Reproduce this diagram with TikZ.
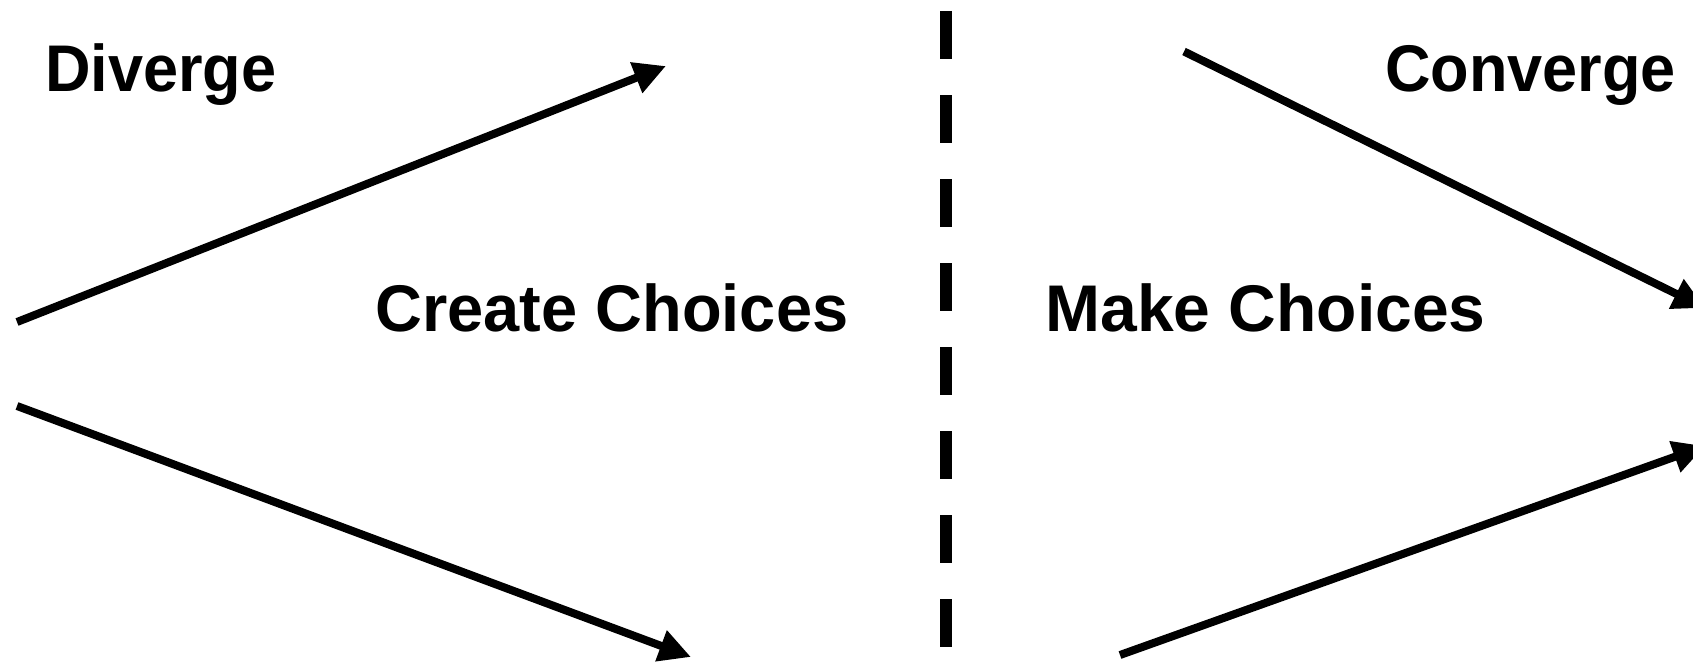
\documentclass[tikz,border=0pt]{standalone}
\usepackage{fontspec}
\setmainfont{Liberation Sans}
\usetikzlibrary{arrows.meta}
\tikzset{
  lbl/.style={anchor=base west, inner sep=0pt, outer sep=0pt, font=\fontsize{66}{70}\selectfont\bfseries},
  flow/.style={line width=8pt, -{Triangle[length=32pt,width=31pt]}},
  divider/.style={line width=12pt, dash pattern=on 48pt off 36pt}
}
\begin{document}
\begin{tikzpicture}[x=1pt,y=-1pt]
\useasboundingbox (0,0) rectangle (1693,661);
% labels
\node[lbl, xscale=0.955] (diverge) at (45,92) {Diverge};
\node[lbl, xscale=0.955] (converge) at (1385,91) {Converge};
\node[lbl, xscale=0.984] (create) at (375.5,331) {Create Choices};
\node[lbl, xscale=1.0] (make) at (1045.5,331) {Make Choices};
% end points
\coordinate (ulS) at (17,322);
\coordinate (ulE) at (666,66);
\coordinate (llS) at (17,406);
\coordinate (llE) at (691,657);
\coordinate (urS) at (1184,51.5);
\coordinate (urE) at (1705,308);
\coordinate (lrS) at (1120,655);
\coordinate (lrE) at (1705,446);
\coordinate (dT) at (946,11);
\coordinate (dB) at (946,647);
% connectors
\draw[flow] (ulS) -- (ulE);
\draw[flow] (llS) -- (llE);
\draw[flow] (urS) -- (urE);
\draw[flow] (lrS) -- (lrE);
\draw[divider] (dT) -- (dB);
\end{tikzpicture}
\end{document}
